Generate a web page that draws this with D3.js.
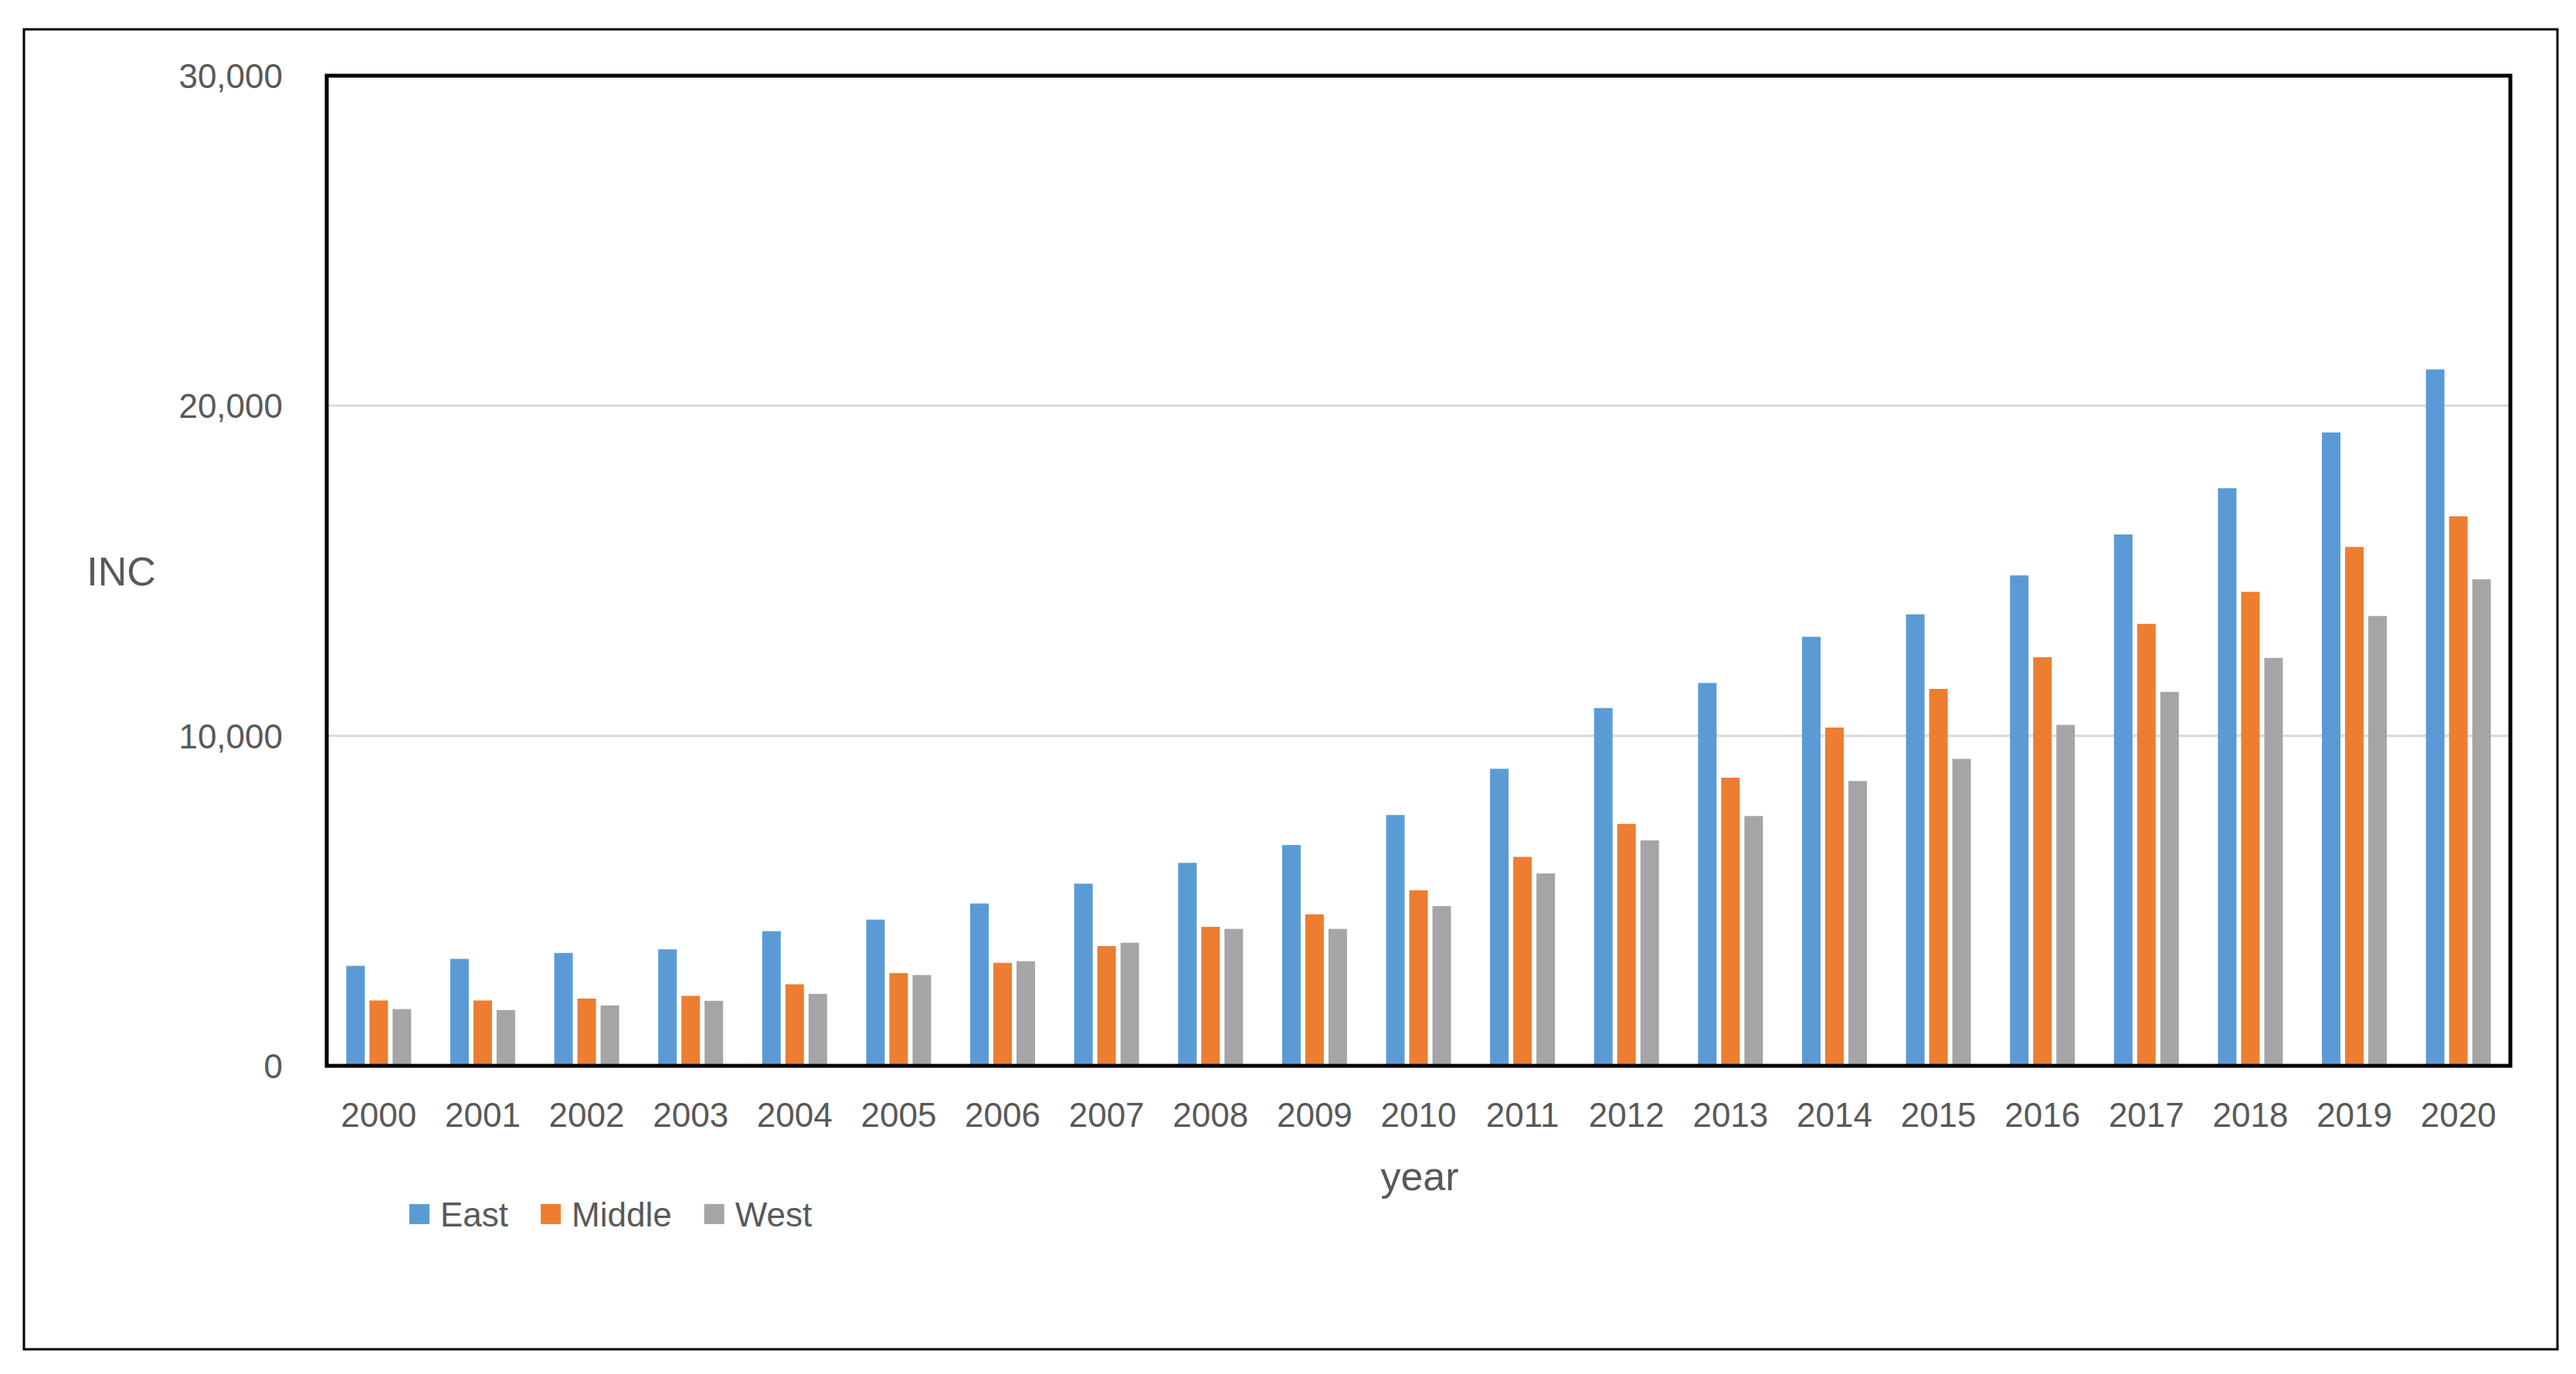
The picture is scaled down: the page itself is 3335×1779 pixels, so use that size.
<!DOCTYPE html>
<html>
<head>
<meta charset="utf-8">
<script src="https://cdn.jsdelivr.net/npm/d3@7"></script>
<style>
  html, body { margin: 0; padding: 0; background: #fff; }
  svg { display: block; }
  text { font-family: "Liberation Sans", Arial, sans-serif; fill: #595959; }
</style>
</head>
<body>
<svg id="chart" width="3335" height="1779"></svg>
<script>
const years = ["2000","2001","2002","2003","2004","2005","2006","2007","2008","2009","2010",
               "2011","2012","2013","2014","2015","2016","2017","2018","2019","2020"];
const seriesNames = ["East", "Middle", "West"];
const east   = [3030, 3240, 3420, 3530, 4080, 4430, 4920, 5520, 6150, 6690, 7600,
                9000, 10840, 11600, 13000, 13680, 14860, 16100, 17500, 19190, 21100];
const middle = [1980, 1980, 2040, 2120, 2470, 2810, 3120, 3630, 4210, 4590, 5320,
                6330, 7330, 8730, 10250, 11420, 12380, 13390, 14360, 15720, 16650];
const west   = [1720, 1690, 1830, 1970, 2180, 2750, 3170, 3730, 4150, 4150, 4840,
                5830, 6830, 7570, 8630, 9300, 10330, 11330, 12360, 13630, 14740];
const yTicks = [0, 10000, 20000, 30000];
const colors = ["#5b9bd5", "#ed7d31", "#a5a5a5"];

const seriesValues = [east, middle, west];
const table = years.map((y, i) => ({
  year: y,
  values: seriesNames.map((s, k) => ({ key: s, value: seriesValues[k][i] }))
}));

const svg = d3.select("#chart");
const W = 3335, H = 1779;
const plot = { left: 423, top: 98, right: 3250, bottom: 1380 };

// outer border
svg.append("rect")
  .attr("x", 31).attr("y", 38)
  .attr("width", 3280).attr("height", 1709)
  .attr("fill", "none").attr("stroke", "#000").attr("stroke-width", 3);

const x0 = d3.scaleBand().domain(years).range([plot.left, plot.right]).paddingInner(0).paddingOuter(0);
const groupW = x0.bandwidth() * 0.624;
const x1 = d3.scaleBand().domain(seriesNames).range([0, groupW]).paddingInner(0.2).paddingOuter(0);
const y = d3.scaleLinear().domain([0, 30000]).range([plot.bottom, plot.top]);
const color = d3.scaleOrdinal().domain(seriesNames).range(colors);

// gridlines
svg.append("g").selectAll("line")
  .data(yTicks.filter(t => t > 0 && t < 30000))
  .join("line")
  .attr("x1", plot.left).attr("x2", plot.right)
  .attr("y1", d => y(d)).attr("y2", d => y(d))
  .attr("stroke", "#d9d9d9").attr("stroke-width", 3);

// bars
const groups = svg.append("g").selectAll("g")
  .data(table).join("g")
  .attr("transform", d => `translate(${x0(d.year) + (x0.bandwidth() - groupW) / 2},0)`);
groups.selectAll("rect")
  .data(d => d.values).join("rect")
  .attr("x", d => x1(d.key))
  .attr("width", x1.bandwidth())
  .attr("y", d => y(d.value))
  .attr("height", d => y(0) - y(d.value))
  .attr("fill", d => color(d.key));

// plot frame
svg.append("rect")
  .attr("x", plot.left).attr("y", plot.top)
  .attr("width", plot.right - plot.left).attr("height", plot.bottom - plot.top)
  .attr("fill", "none").attr("stroke", "#000").attr("stroke-width", 5);

// y axis
const yAxis = svg.append("g")
  .attr("transform", `translate(${plot.left - 57},0)`)
  .call(d3.axisLeft(y).tickValues(yTicks).tickFormat(d3.format(",")).tickSize(0).tickPadding(0));
yAxis.select(".domain").remove();
yAxis.selectAll("text")
  .attr("font-size", 44)
  .style("font-family", '"Liberation Sans", Arial, sans-serif')
  .attr("fill", "#595959")
  .attr("dy", "0.35em");

// x axis
const xAxis = svg.append("g")
  .attr("transform", `translate(0,${plot.bottom})`)
  .call(d3.axisBottom(x0).tickSize(0).tickPadding(0));
xAxis.select(".domain").remove();
xAxis.selectAll("text")
  .attr("font-size", 44)
  .style("font-family", '"Liberation Sans", Arial, sans-serif')
  .attr("fill", "#595959")
  .attr("y", 64)
  .attr("dy", "0.35em");

// axis titles
svg.append("text")
  .attr("x", 157).attr("y", 740)
  .attr("text-anchor", "middle").attr("dominant-baseline", "central")
  .attr("font-size", 52)
  .text("INC");
svg.append("text")
  .attr("x", 1838).attr("y", 1523)
  .attr("text-anchor", "middle").attr("dominant-baseline", "central")
  .attr("font-size", 52)
  .text("year");

// legend
const legend = svg.append("g");
let lx = 530;
const ly = 1572;
seriesNames.forEach((s, k) => {
  legend.append("rect")
    .attr("x", lx).attr("y", ly - 13)
    .attr("width", 26).attr("height", 26)
    .attr("fill", colors[k]);
  const t = legend.append("text")
    .attr("x", lx + 40).attr("y", ly)
    .attr("dominant-baseline", "central")
    .attr("font-size", 44)
    .text(s);
  lx = lx + 40 + t.node().getComputedTextLength() + 42;
});
</script>
</body>
</html>
